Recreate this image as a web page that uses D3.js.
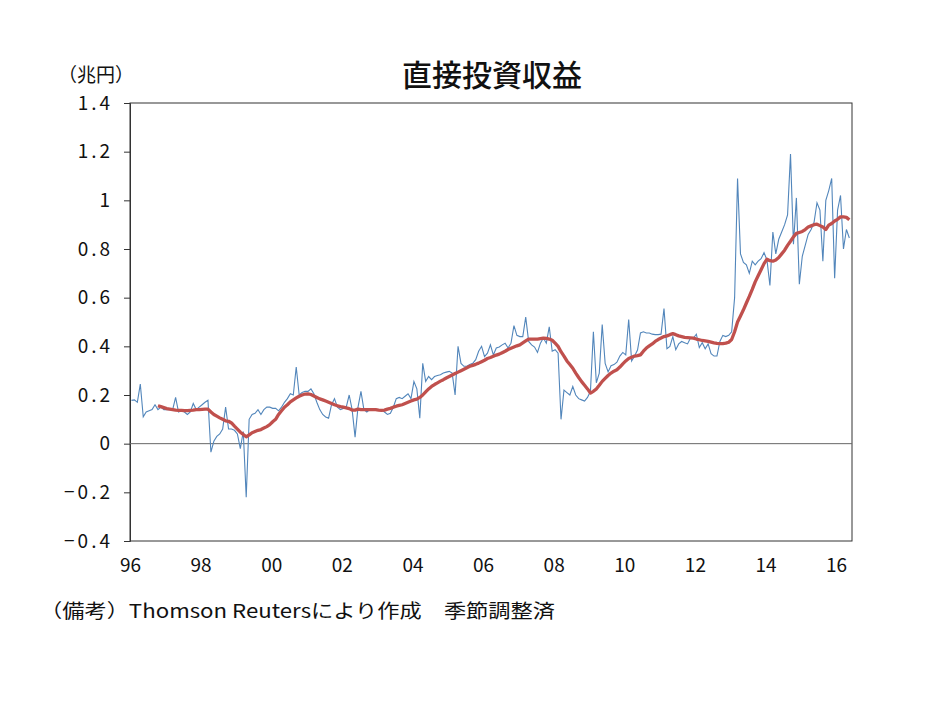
<!DOCTYPE html>
<html><head><meta charset="utf-8">
<script src="https://cdn.jsdelivr.net/npm/d3@7"></script>
<style>body{margin:0;background:#fff}svg{display:block}</style>
</head><body>
<svg id="c" width="934" height="701"></svg>
<script>
// Monthly data, Jan 1996 onward (兆円)
const startYear = 1996;
const income = [
0.178,0.18,0.17,0.245,0.11,0.13,0.135,0.14,0.16,0.14,0.15,0.14,
0.14,0.14,0.14,0.19,0.13,0.135,0.13,0.12,0.13,0.165,0.14,0.15,
0.16,0.17,0.178,-0.035,0.01,0.03,0.04,0.06,0.15,0.06,0.06,0.055,
0.04,-0.02,0.05,-0.22,0.10,0.12,0.125,0.14,0.12,0.14,0.15,0.15,
0.145,0.145,0.135,0.15,0.17,0.185,0.205,0.2,0.315,0.2,0.21,0.215,
0.215,0.225,0.205,0.17,0.14,0.12,0.11,0.105,0.16,0.185,0.15,0.14,
0.145,0.15,0.2,0.14,0.027,0.15,0.215,0.14,0.13,0.14,0.14,0.14,
0.14,0.14,0.13,0.12,0.125,0.15,0.185,0.19,0.185,0.195,0.205,0.185,
0.255,0.225,0.105,0.33,0.256,0.276,0.263,0.276,0.28,0.283,0.29,0.294,
0.297,0.29,0.2,0.40,0.33,0.318,0.318,0.325,0.33,0.345,0.38,0.40,
0.358,0.372,0.406,0.365,0.393,0.397,0.406,0.413,0.393,0.413,0.485,0.445,
0.44,0.44,0.52,0.42,0.406,0.397,0.375,0.413,0.434,0.413,0.48,0.38,
0.386,0.372,0.10,0.22,0.21,0.20,0.235,0.20,0.185,0.18,0.175,0.19,
0.215,0.46,0.25,0.29,0.49,0.33,0.295,0.32,0.325,0.335,0.36,0.375,
0.365,0.51,0.34,0.36,0.385,0.455,0.46,0.455,0.455,0.45,0.448,0.448,
0.45,0.555,0.39,0.40,0.44,0.386,0.41,0.42,0.415,0.41,0.434,0.434,
0.45,0.395,0.415,0.39,0.41,0.37,0.36,0.36,0.42,0.445,0.44,0.445,
0.46,0.60,1.09,0.78,0.745,0.735,0.70,0.75,0.735,0.75,0.76,0.785,
0.755,0.65,0.87,0.78,0.84,0.87,0.90,0.94,1.19,0.82,1.01,0.655,
0.77,0.815,0.86,0.88,0.91,0.99,0.96,0.75,1.0,1.04,1.09,0.68,
0.96,1.02,0.80,0.88,0.845
];
// 12-month moving average, starting at month index 9
const maStart = 9;
const movingAvg = [
0.156,0.152,0.148,0.144,0.142,0.14,0.138,0.137,0.137,0.136,0.136,0.137,0.138,0.14,0.14,0.141,0.142,0.142,0.13,0.12,
0.113,0.106,0.10,0.094,0.092,0.085,0.072,0.06,0.047,0.038,0.028,0.036,0.045,0.05,0.055,0.058,0.064,0.07,0.078,0.09,
0.10,0.12,0.135,0.15,0.16,0.172,0.18,0.188,0.195,0.20,0.204,0.205,0.202,0.196,0.19,0.184,0.18,0.175,0.17,0.165,
0.16,0.156,0.152,0.15,0.147,0.144,0.138,0.138,0.142,0.14,0.14,0.14,0.14,0.14,0.14,0.138,0.137,0.138,0.142,0.145,
0.15,0.154,0.157,0.16,0.165,0.17,0.175,0.18,0.183,
0.19,0.20,0.213,0.225,0.235,0.243,0.25,0.257,0.263,0.27,0.276,0.282,0.288,0.294,0.30,0.306,0.312,0.318,0.322,0.326,
0.331,0.337,0.343,0.35,0.354,0.359,0.364,0.368,0.374,0.38,0.387,0.392,0.397,0.402,0.406,0.414,0.422,0.43,0.43,0.43,
0.43,0.432,0.434,0.433,0.43,0.425,0.413,
0.40,0.378,0.36,0.34,0.325,0.31,0.29,0.272,0.255,0.24,0.225,0.208,0.215,0.225,0.24,0.256,0.268,0.28,0.29,0.298,
0.304,0.315,0.328,0.34,0.35,0.355,0.36,0.362,0.365,0.38,0.393,0.402,0.41,0.42,0.428,0.434,0.44,0.443,0.448,0.452,
0.448,0.443,0.44,0.437,0.436,0.435,0.434,0.43,0.427,
0.424,0.422,0.42,0.417,0.414,0.412,0.411,0.411,0.413,0.417,0.428,0.46,0.50,0.525,0.55,0.578,0.605,0.634,0.665,0.69,
0.715,0.74,0.758,0.752,0.75,0.755,0.765,0.78,0.795,0.815,0.832,0.85,0.864,0.868,0.872,0.88,0.89,0.895,0.9,0.902,
0.896,0.89,0.88,0.898,0.905,0.915,0.922,0.932,0.932,0.93,0.92
];
const yTicks = [-0.4,-0.2,0,0.2,0.4,0.6,0.8,1,1.2,1.4];
const yTickLabels = ["−0.4","−0.2","0","0.2","0.4","0.6","0.8","1","1.2","1.4"];
const xTickYears = [1996,1998,2000,2002,2004,2006,2008,2010,2012,2014,2016];
const xTickLabels = ["96","98","00","02","04","06","08","10","12","14","16"];
const title = "直接投資収益";
const unitLabel = "（兆円）";
const note = "（備考）Thomson Reutersにより作成　季節調整済";

const svg = d3.select("#c");
const L=130, R=852, T=103, B=541;
const x = d3.scaleLinear().domain([1996, 2016.45]).range([L, R]);
const y = d3.scaleLinear().domain([-0.4, 1.4]).range([B, T]);
const jp = "'Noto Sans CJK JP','Noto Sans',sans-serif";

// frame
svg.append("rect").attr("x",L).attr("y",T).attr("width",R-L).attr("height",B-T)
  .attr("fill","none").attr("stroke","#333").attr("stroke-width",1);

// y axis
const yAxis = d3.axisLeft(y).tickValues(yTicks).tickSize(6).tickPadding(11)
  .tickFormat((d,i)=>yTickLabels[i]);
const gy = svg.append("g").attr("transform",`translate(${L},0)`).call(yAxis);
gy.select(".domain").attr("stroke","#333");
gy.selectAll(".tick line").attr("stroke","#333");
gy.selectAll(".tick text").attr("font-family",jp).attr("font-size",19)
  .attr("fill","#111").attr("letter-spacing","3px");

// x axis labels
const xAxis = d3.axisBottom(x).tickValues(xTickYears).tickSize(0).tickPadding(18)
  .tickFormat((d,i)=>xTickLabels[i]);
const gx = svg.append("g").attr("transform",`translate(0,${B})`).call(xAxis);
gx.select(".domain").remove();
gx.selectAll(".tick text").attr("font-family",jp).attr("font-size",19).attr("fill","#111");

// zero line
svg.append("line").attr("x1",L).attr("x2",R).attr("y1",y(0)).attr("y2",y(0))
  .attr("stroke","#666").attr("stroke-width",1);

const monthX = i => x(startYear + (i + 0.5) / 12);

const line = d3.line().x(d=>monthX(d[0])).y(d=>y(d[1]));
svg.append("path").datum(income.map((v,i)=>[i,v]))
  .attr("d",line).attr("fill","none").attr("stroke","#5286bb").attr("stroke-width",1.1);
svg.append("path").datum(movingAvg.map((v,i)=>[i+maStart,v]))
  .attr("d",line).attr("fill","none").attr("stroke","#c0504d").attr("stroke-width",3.3)
  .attr("stroke-linejoin","round");

// texts
svg.append("text").attr("x",(L+R)/2+1).attr("y",86).attr("text-anchor","middle")
  .attr("font-family",jp).attr("font-size",30).attr("font-weight",500).attr("fill","#111").text(title);
svg.append("text").attr("x",58).attr("y",82)
  .attr("font-family",jp).attr("font-size",19).attr("fill","#111")
  .attr("textLength",76).attr("lengthAdjust","spacingAndGlyphs").text(unitLabel);
svg.append("text").attr("x",40).attr("y",618)
  .attr("font-family",jp).attr("font-size",19).attr("fill","#111")
  .attr("textLength",515).attr("lengthAdjust","spacingAndGlyphs").text(note);
</script>
</body></html>
